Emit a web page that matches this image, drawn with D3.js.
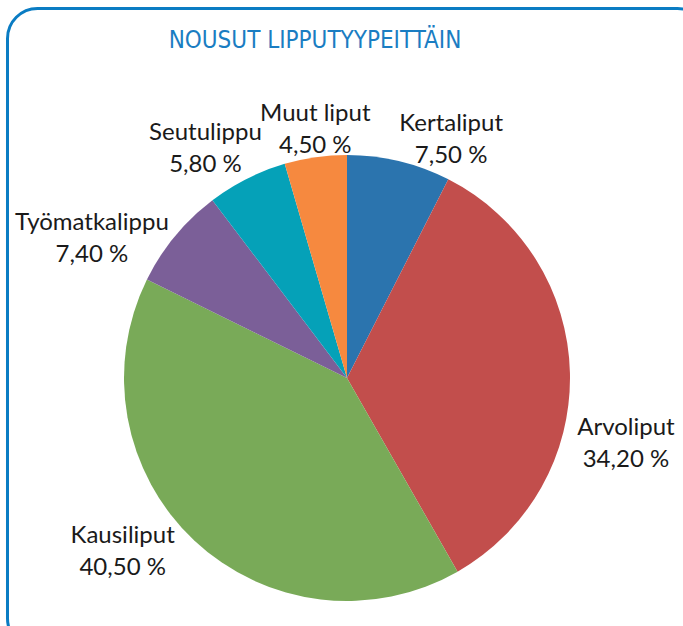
<!DOCTYPE html>
<meta charset="utf-8">
<script src="https://d3js.org/d3.v7.min.js"></script>
<style>
  body { margin: 0; background: #fff; }
  svg { display: block; }
</style>
<div id="chart"></div>
<script>
// data
const categories = ["Kertaliput", "Arvoliput", "Kausiliput", "Työmatkalippu", "Seutulippu", "Muut liput"];
const shares = [7.5, 34.2, 40.5, 7.4, 5.8, 4.5];
const colors = ["#2b74ae", "#c24e4c", "#79aa58", "#7b5f98", "#05a1b8", "#f6893f"];

// label nudges from the outer label ring (text, not marks)
const labelNudge = {
  "Kertaliput": [45, -1],
  "Arvoliput": [26, 63],
  "Kausiliput": [-51, -19],
  "Työmatkalippu": [-60, 13],
  "Seutulippu": [-28, -12],
  "Muut liput": [4, -7]
};

const width = 683, height = 626;
const cx = 347, cy = 378, radius = 223;

const svg = d3.select("#chart").append("svg")
  .attr("width", width)
  .attr("height", height);

// frame
svg.append("rect")
  .attr("x", 7.5).attr("y", 8.5)
  .attr("width", 700).attr("height", 640)
  .attr("rx", 30).attr("ry", 30)
  .attr("fill", "none")
  .attr("stroke", "#0a7cc3")
  .attr("stroke-width", 3);

// title
svg.append("text")
  .attr("x", 315).attr("y", 48)
  .attr("text-anchor", "middle")
  .style("font-family", "'Liberation Sans Narrow', 'DejaVu Sans Condensed', sans-serif")
  .style("font-size", "24px")
  .style("fill", "#1a7dc2")
  .text("NOUSUT LIPPUTYYPEITTÄIN");

const data = categories.map((c, i) => ({ name: c, value: shares[i], color: colors[i] }));

const pie = d3.pie().sort(null).value(d => d.value);
const arc = d3.arc().innerRadius(0).outerRadius(radius);
const labelArc = d3.arc().innerRadius(radius + 30).outerRadius(radius + 30);

const g = svg.append("g").attr("transform", `translate(${cx},${cy})`);

const arcs = pie(data);

g.selectAll("path")
  .data(arcs)
  .join("path")
  .attr("d", arc)
  .attr("fill", d => d.data.color);

const fmt = v => v.toFixed(2).replace(".", ",") + " %";

const labels = g.selectAll("text.lbl")
  .data(arcs)
  .join("text")
  .attr("class", "lbl")
  .attr("text-anchor", "middle")
  .style("font-family", "Lato, 'Open Sans', sans-serif")
  .style("font-size", "24px")
  .style("fill", "#1a1a1a")
  .attr("transform", d => {
    const [x, y] = labelArc.centroid(d);
    const [dx, dy] = labelNudge[d.data.name];
    return `translate(${x + dx},${y + dy})`;
  });

labels.append("tspan").attr("x", 0).attr("y", 0).text(d => d.data.name);
labels.append("tspan").attr("x", 0).attr("y", 32).text(d => fmt(d.data.value));
</script>
